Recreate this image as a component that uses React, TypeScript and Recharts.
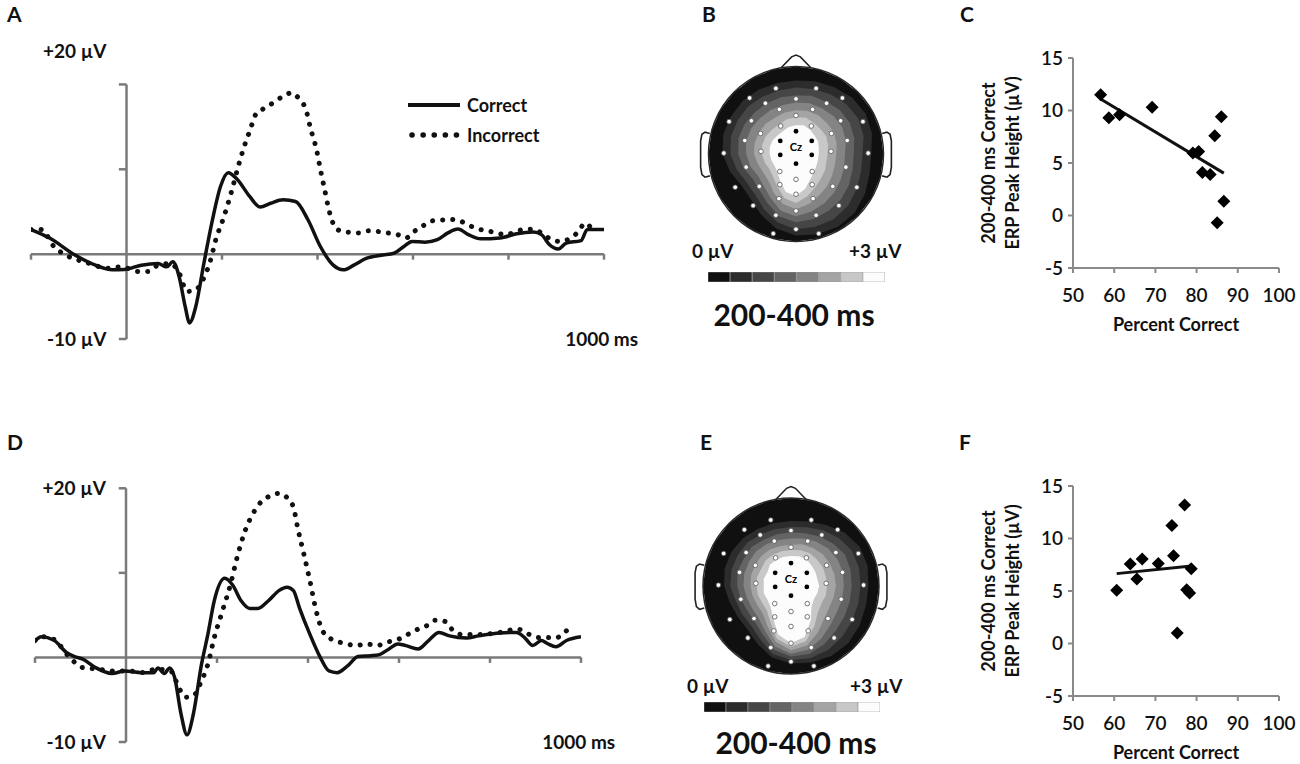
import React from 'react';
import {
  LineChart,
  Line,
  XAxis,
  YAxis,
  ReferenceLine,
  ReferenceDot,
  Legend,
  ScatterChart,
  Scatter,
  RadarChart,
  Radar,
  PolarAngleAxis,
  PolarRadiusAxis,
  BarChart,
  Bar,
  Cell,
} from 'recharts';

const FONT = 'Lato, "Open Sans", "DejaVu Sans", sans-serif';
const INK = '#111111';
const AXIS_GREY = '#7a7a7a';

// ---------- ERP waveforms (ms, µV) ----------
const timeTicks = [-200, 200, 400, 600, 800, 1000];
const voltTicks = [-10, 10, 20];
const seriesNames = ['Correct', 'Incorrect'];

const correctTimesA = [-200, -161, -108, -65, -30, -4, 31, 66, 84, 97, 110, 123, 132, 145, 162, 180, 197, 213, 232, 258, 280, 302, 328, 354, 380, 406, 433, 454, 476, 502, 537, 559, 581, 598, 625, 651, 673, 694, 716, 742, 782, 817, 852, 869, 886, 904, 921, 952, 965, 1000];
const correctValuesA = [2.9, 1.9, -0.1, -1.3, -1.85, -1.8, -1.3, -1.1, -1.5, -0.9, -2.6, -6.2, -8.1, -6.2, -1.1, 4.05, 8.0, 9.6, 8.8, 6.8, 5.55, 6.0, 6.4, 6.2, 4.05, 0.9, -1.3, -1.85, -1.3, -0.5, -0.1, 0.1, 0.9, 1.5, 1.4, 1.7, 2.5, 2.95, 2.3, 1.8, 1.9, 2.4, 2.6, 2.3, 1.1, 0.6, 1.3, 1.6, 2.9, 2.9];
const incorrectTimesA = [-200, -178, -152, -78, -39, -12, 27, 44, 66, 92, 110, 127, 145, 162, 175, 188, 201, 219, 236, 249, 258, 271, 289, 306, 328, 345, 363, 376, 385, 398, 406, 415, 424, 441, 463, 485, 507, 546, 568, 585, 603, 620, 638, 659, 677, 699, 721, 738, 760, 795, 817, 838, 856, 873, 891, 908, 930, 947, 960, 973];
const incorrectValuesA = [2.9, 2.9, 0.9, -1.1, -1.65, -1.5, -2.05, -2.05, -1.3, -1.1, -2.2, -4.4, -4.2, -2.8, -0.9, 1.9, 3.9, 7.2, 10.75, 13.1, 14.5, 16.5, 17.2, 17.8, 18.6, 19.0, 18.2, 17.0, 14.9, 12.3, 10.0, 7.6, 5.2, 2.9, 2.6, 2.5, 2.75, 2.5, 2.3, 1.9, 2.7, 3.3, 3.9, 4.0, 4.1, 3.9, 3.3, 2.95, 2.7, 2.3, 2.7, 2.95, 2.9, 2.3, 1.7, 1.5, 1.9, 2.7, 3.65, 3.1];

const correctTimesD = [-200, -186, -159, -131, -113, -95, -67, -31, -3, 34, 61, 70, 84, 96, 107, 121, 134, 148, 166, 180, 194, 217, 235, 253, 272, 290, 313, 336, 354, 368, 381, 404, 427, 446, 464, 487, 510, 537, 555, 578, 597, 615, 642, 665, 688, 711, 748, 775, 821, 858, 876, 894, 913, 926, 945, 968, 1000];
const correctValuesD = [1.97, 2.45, 2.05, 0.6, 0.1, -0.2, -1.2, -1.9, -1.6, -1.8, -1.8, -1.25, -1.9, -1.25, -2.4, -6.7, -9.15, -6.7, -0.8, 2.75, 6.7, 9.35, 8.5, 6.7, 5.8, 5.8, 6.7, 7.9, 8.3, 7.9, 5.9, 2.75, 0, -1.6, -1.8, -1.0, 0.1, 0.2, 0.3, 1.0, 1.6, 1.4, 1.0, 2.0, 2.95, 2.55, 2.3, 2.55, 2.9, 2.95, 2.35, 1.4, 2.0, 1.65, 1.25, 2.0, 2.45];
const incorrectTimesD = [-200, -186, -159, -127, -95, -58, -35, 6, 34, 66, 98, 116, 130, 148, 166, 180, 194, 212, 230, 244, 262, 281, 299, 317, 336, 354, 368, 377, 391, 404, 418, 432, 450, 482, 505, 528, 551, 574, 601, 624, 642, 661, 679, 702, 716, 739, 775, 821, 861, 885, 908, 926, 945, 963, 981];
const incorrectValuesD = [2.0, 2.45, 2.15, 0.2, -1.2, -1.4, -1.6, -1.6, -1.8, -1.4, -1.6, -3.55, -4.7, -4.55, -2.75, -0.8, 2.35, 5.5, 8.7, 11.8, 15.0, 17.2, 18.5, 19.1, 19.4, 18.9, 17.75, 15.4, 12.2, 9.1, 5.5, 3.15, 2.2, 1.65, 1.4, 1.6, 1.4, 1.8, 2.2, 2.85, 3.35, 3.75, 4.4, 4.25, 3.35, 2.7, 2.7, 2.95, 3.35, 2.75, 2.35, 2.35, 2.3, 2.95, 3.75];

// ---------- correlations ----------
const pctTicks = [50, 60, 70, 80, 90, 100];
const peakTicks = [-5, 0, 5, 10, 15];
const yTitleLines = ['200-400 ms Correct', 'ERP Peak Height (µV)'];

const pctCorrectC = [56.7, 58.7, 61.3, 69.2, 79.1, 80.5, 81.4, 83.3, 84.4, 86.0, 86.6, 85.0];
const peakHeightC = [11.5, 9.3, 9.6, 10.3, 5.95, 6.1, 4.1, 3.9, 7.6, 9.4, 1.35, -0.7];
const pctCorrectF = [60.6, 63.9, 65.5, 66.8, 70.7, 74.0, 74.4, 77.1, 78.7, 77.6, 78.3, 75.3];
const peakHeightF = [5.06, 7.56, 6.14, 8.04, 7.63, 11.23, 8.35, 13.2, 7.12, 5.13, 4.81, 1.01];

// ---------- scalp maps ----------
// 8 grey steps, 0 µV (black) to +3 µV (white)
const greyLevels = ['#101010', '#2c2c2c', '#464646', '#646464', '#848484', '#a4a4a4', '#c8c8c8', '#fcfcfc'];
const topoAngles = [0, 15, 30, 45, 60, 75, 90, 105, 120, 135, 150, 165, 180, 195, 210, 225, 240, 255, 270, 285, 300, 315, 330, 345];
const headRim = [1, 1, 1, 1, 1, 1, 1, 1, 1, 1, 1, 1, 1, 1, 1, 1, 1, 1, 1, 1, 1, 1, 1, 1];

// outer radius (head = 1) of each grey step, per angle clockwise from the nose
const mapB1 = [0.84, 0.86, 0.88, 0.91, 0.92, 0.90, 0.86, 0.87, 0.91, 0.95, 0.96, 0.95, 0.93, 0.88, 0.80, 0.73, 0.72, 0.78, 0.84, 0.86, 0.86, 0.86, 0.85, 0.84];
const mapB2 = [0.76, 0.77, 0.79, 0.81, 0.82, 0.80, 0.76, 0.77, 0.80, 0.84, 0.86, 0.86, 0.86, 0.81, 0.73, 0.66, 0.65, 0.70, 0.75, 0.77, 0.77, 0.77, 0.76, 0.75];
const mapB3 = [0.67, 0.69, 0.69, 0.71, 0.71, 0.69, 0.66, 0.67, 0.70, 0.73, 0.75, 0.77, 0.78, 0.74, 0.65, 0.59, 0.57, 0.62, 0.66, 0.68, 0.68, 0.67, 0.67, 0.67];
const mapB4 = [0.59, 0.60, 0.60, 0.61, 0.61, 0.59, 0.56, 0.57, 0.59, 0.62, 0.65, 0.68, 0.71, 0.67, 0.58, 0.52, 0.50, 0.54, 0.57, 0.59, 0.59, 0.58, 0.58, 0.58];
const mapB5 = [0.50, 0.51, 0.51, 0.50, 0.50, 0.48, 0.46, 0.46, 0.48, 0.51, 0.54, 0.59, 0.63, 0.59, 0.51, 0.44, 0.43, 0.45, 0.48, 0.49, 0.49, 0.49, 0.48, 0.49];
const mapB6 = [0.42, 0.43, 0.41, 0.40, 0.40, 0.38, 0.36, 0.36, 0.38, 0.40, 0.44, 0.50, 0.56, 0.52, 0.43, 0.37, 0.35, 0.37, 0.39, 0.40, 0.40, 0.39, 0.39, 0.41];
const mapB7 = [0.33, 0.34, 0.32, 0.30, 0.29, 0.27, 0.26, 0.26, 0.27, 0.29, 0.33, 0.41, 0.48, 0.45, 0.36, 0.30, 0.28, 0.29, 0.30, 0.31, 0.31, 0.30, 0.30, 0.32];

const mapE1 = [0.74, 0.76, 0.80, 0.86, 0.90, 0.90, 0.88, 0.88, 0.90, 0.92, 0.92, 0.90, 0.88, 0.84, 0.76, 0.70, 0.70, 0.72, 0.76, 0.78, 0.78, 0.77, 0.75, 0.74];
const mapE2 = [0.67, 0.69, 0.73, 0.77, 0.80, 0.80, 0.79, 0.79, 0.80, 0.82, 0.84, 0.85, 0.84, 0.80, 0.70, 0.64, 0.64, 0.65, 0.69, 0.70, 0.70, 0.70, 0.68, 0.67];
const mapE3 = [0.61, 0.62, 0.65, 0.68, 0.71, 0.70, 0.69, 0.69, 0.70, 0.72, 0.76, 0.80, 0.80, 0.75, 0.64, 0.58, 0.57, 0.59, 0.61, 0.63, 0.62, 0.63, 0.61, 0.61];
const mapE4 = [0.54, 0.56, 0.58, 0.60, 0.61, 0.61, 0.60, 0.60, 0.60, 0.63, 0.69, 0.75, 0.77, 0.71, 0.59, 0.52, 0.51, 0.52, 0.54, 0.55, 0.55, 0.56, 0.55, 0.54];
const mapE5 = [0.47, 0.49, 0.50, 0.51, 0.51, 0.51, 0.51, 0.50, 0.50, 0.53, 0.61, 0.70, 0.73, 0.66, 0.53, 0.45, 0.44, 0.45, 0.46, 0.47, 0.47, 0.48, 0.48, 0.47];
const mapE6 = [0.41, 0.42, 0.43, 0.42, 0.42, 0.41, 0.41, 0.41, 0.40, 0.43, 0.53, 0.65, 0.69, 0.62, 0.47, 0.39, 0.38, 0.39, 0.39, 0.40, 0.39, 0.41, 0.41, 0.41];
const mapE7 = [0.34, 0.35, 0.35, 0.33, 0.32, 0.31, 0.32, 0.31, 0.30, 0.33, 0.45, 0.60, 0.65, 0.57, 0.41, 0.33, 0.31, 0.32, 0.31, 0.32, 0.31, 0.34, 0.34, 0.34];

// electrode positions, head radius = 1, nose up
const electrodeU = [0, 0, 0, 0, 0, 0, -0.23, 0.23, -0.53, 0.53, -0.35, 0.35, -0.19, 0.19, -0.765, 0.765, -0.51, 0.51, -0.175, 0.175, -0.405, 0.405, -0.585, 0.585, -0.825, 0.825, -0.4, 0.4, -0.57, 0.57, -0.185, 0.185, -0.695, 0.695, -0.42, 0.42, -0.185, 0.185, -0.49, 0.49, -0.195, 0.195, -0.23, 0.23, -0.26, 0.26];
const electrodeV = [0.63, 0.44, -0.29, -0.46, -0.65, -0.86, 0.75, 0.75, 0.64, 0.64, 0.58, 0.58, 0.51, 0.51, 0.37, 0.37, 0.38, 0.38, 0.32, 0.32, 0.235, 0.235, 0.155, 0.155, 0.01, 0.01, 0.03, 0.03, -0.15, -0.15, -0.2, -0.2, -0.38, -0.38, -0.37, -0.37, -0.35, -0.35, -0.59, -0.59, -0.51, -0.51, -0.7, -0.7, -0.91, -0.91];
const activeU = [0, -0.18, 0.18, -0.18, 0.18, 0];
const activeV = [0.26, 0.15, 0.15, -0.01, -0.01, -0.11];
const noseU = [-0.17, -0.05, 0, 0.05, 0.17];
const noseV = [0.985, 1.11, 1.13, 1.11, 0.985];
const earLeftU = [-0.985, -1.04, -1.075, -1.09, -1.09, -1.075, -1.04, -0.985];
const earRightU = [0.985, 1.04, 1.075, 1.09, 1.09, 1.075, 1.04, 0.985];
const earV = [0.235, 0.25, 0.225, 0.15, -0.15, -0.235, -0.265, -0.25];

const toPoints = (times: number[], values: number[]) =>
  times.slice(0, Math.min(times.length, values.length)).map((t, i) => ({ t, v: values[i] }));
const toUV = (us: number[], vs: number[]) => us.map((u, i) => ({ u, v: vs[i] }));

const WaveLegend = () => (
  <div style={{ fontFamily: FONT, fontSize: 18, fontWeight: 700, color: INK }}>
    {seriesNames.map((name, i) => (
      <div key={name} style={{ display: 'flex', alignItems: 'center', height: 30 }}>
        <svg width={58} height={12}>
          {i === 0 ? (
            <line x1={3} y1={6} x2={55} y2={6} stroke={INK} strokeWidth={4} />
          ) : (
            <line x1={7} y1={6} x2={52} y2={6} stroke={INK} strokeWidth={5.5} strokeDasharray="0.1 11" strokeLinecap="round" />
          )}
        </svg>
        <span style={{ marginLeft: 4 }}>{name}</span>
      </div>
    ))}
  </div>
);

function Waveform({ correct, incorrect, width, height, margin, topLabelAt, showLegend }: any) {
  const labelStyle = { fontSize: 19, fontWeight: 700, fill: INK };
  return (
    <LineChart width={width} height={height} margin={margin}>
      <XAxis type="number" dataKey="t" domain={[-200, 1000]} hide allowDataOverflow />
      <YAxis type="number" domain={[-10, 25]} hide allowDataOverflow />
      <ReferenceLine y={0} stroke={AXIS_GREY} strokeWidth={2.5} />
      <ReferenceLine segment={[{ x: 0, y: -10 }, { x: 0, y: 20 }]} stroke={AXIS_GREY} strokeWidth={2.5} />
      {timeTicks.map((t) => (
        <ReferenceLine key={`t${t}`} segment={[{ x: t, y: 0 }, { x: t, y: -0.65 }]} stroke={AXIS_GREY} strokeWidth={2.5} ifOverflow="visible" />
      ))}
      {voltTicks.map((v) => (
        <ReferenceLine key={`v${v}`} segment={[{ x: -16, y: v }, { x: 0, y: v }]} stroke={AXIS_GREY} strokeWidth={2.5} />
      ))}
      <ReferenceDot x={0} y={topLabelAt} r={0} stroke="none" ifOverflow="visible" label={{ value: '+20 µV', position: 'left', offset: 20, ...labelStyle }} />
      <ReferenceDot x={0} y={-10} r={0} stroke="none" ifOverflow="visible" label={{ value: '-10 µV', position: 'left', offset: 20, ...labelStyle }} />
      <ReferenceDot x={995} y={-10} r={0} stroke="none" ifOverflow="visible" label={{ value: '1000 ms', position: 'center', ...labelStyle }} />
      <Line data={incorrect} dataKey="v" name="Incorrect" type="monotone" stroke={INK} strokeWidth={5} strokeDasharray="0.1 10" strokeLinecap="round" dot={false} isAnimationActive={false} />
      <Line data={correct} dataKey="v" name="Correct" type="monotone" stroke={INK} strokeWidth={3.5} dot={false} isAnimationActive={false} />
      {showLegend && (
        <Legend layout="vertical" align="center" verticalAlign="middle" content={WaveLegend} wrapperStyle={{ left: 405, top: 90, width: 170 }} />
      )}
    </LineChart>
  );
}

const linearFit = (xs: number[], ys: number[]) => {
  const n = xs.length;
  const mx = xs.reduce((a, b) => a + b, 0) / n;
  const my = ys.reduce((a, b) => a + b, 0) / n;
  let sxy = 0;
  let sxx = 0;
  xs.forEach((x, i) => {
    sxy += (x - mx) * (ys[i] - my);
    sxx += (x - mx) * (x - mx);
  });
  const slope = sxy / sxx;
  return (x: number) => my + slope * (x - mx);
};

const Diamond = (props: any) => {
  const { cx, cy } = props;
  const h = 6.5;
  return <polygon points={`${cx},${cy - h} ${cx + h},${cy} ${cx},${cy + h} ${cx - h},${cy}`} fill="#000" />;
};

const renderYTitle = (props: any) => {
  const vb = props && props.viewBox && props.viewBox.height ? props.viewBox : { x: 73, y: 58, width: 60, height: 210 };
  const cy = vb.y + vb.height / 2;
  return (
    <g>
      {yTitleLines.map((line, i) => {
        const x = vb.x - 25 + i * 24;
        return (
          <text key={line} x={x} y={cy} transform={`rotate(-90 ${x} ${cy})`} textAnchor="middle" dominantBaseline="central" fontSize={18} fontWeight={700} fill={INK}>
            {line}
          </text>
        );
      })}
    </g>
  );
};

function Correlation({ xs, ys }: any) {
  const points = xs.map((x: number, i: number) => ({ x, y: ys[i] }));
  const fit = linearFit(xs, ys);
  const xMin = Math.min(...xs);
  const xMax = Math.max(...xs);
  const axisLine = { stroke: '#8a8a8a', strokeWidth: 2 };
  return (
    <ScatterChart width={360} height={345} margin={{ top: 58, right: 21, bottom: 17, left: 73 }}>
      <XAxis
        type="number"
        dataKey="x"
        domain={[50, 100]}
        ticks={pctTicks}
        interval={0}
        height={60}
        tickSize={5}
        tickMargin={16}
        axisLine={axisLine}
        tickLine={axisLine}
        tick={{ fontSize: 19, fontWeight: 600, fill: INK }}
        label={{ value: 'Percent Correct', position: 'insideBottom', offset: -3, fontSize: 18, fontWeight: 700, fill: INK }}
      />
      <YAxis
        type="number"
        dataKey="y"
        domain={[-5, 15]}
        ticks={peakTicks}
        interval={0}
        width={60}
        tickSize={5}
        tickMargin={5}
        axisLine={axisLine}
        tickLine={axisLine}
        tick={{ fontSize: 19, fontWeight: 600, fill: INK }}
        label={{ content: renderYTitle }}
      />
      <ReferenceLine segment={[{ x: xMin, y: fit(xMin) }, { x: xMax, y: fit(xMax) }]} stroke={INK} strokeWidth={3} />
      <Scatter data={points} shape={Diamond} isAnimationActive={false} />
    </ScatterChart>
  );
}

const Electrode = (props: any) => <circle cx={props.cx} cy={props.cy} r={2.3} fill="#ffffff" stroke="#555" strokeWidth={0.8} />;
const ActiveElectrode = (props: any) => <circle cx={props.cx} cy={props.cy} r={2.4} fill="#000" />;
const CzLabel = (props: any) => (
  <text x={props.cx} y={props.cy} textAnchor="middle" dominantBaseline="central" fontSize={11} fontWeight={700} fill="#000">
    Cz
  </text>
);
const NoMark = () => <g />;

function Topomap({ levels, size, radius }: any) {
  const rows = topoAngles.map((angle, i) => {
    const row: any = { angle, r0: headRim[i] };
    levels.forEach((arr: number[], k: number) => {
      row[`r${k + 1}`] = arr[i];
    });
    return row;
  });
  const half = size / 2;
  const d = half / radius;
  const outline = { stroke: '#222', strokeWidth: 1.6 };
  return (
    <div style={{ position: 'relative', width: size, height: size }}>
      <div style={{ position: 'absolute', left: 0, top: 0 }}>
        <RadarChart width={size} height={size} cx={half} cy={half} outerRadius={radius} data={rows} margin={{ top: 0, right: 0, bottom: 0, left: 0 }}>
          <PolarAngleAxis dataKey="angle" tick={false} tickLine={false} axisLineType="circle" stroke="#2a2a2a" strokeWidth={1.5} />
          <PolarRadiusAxis type="number" domain={[0, 1]} tick={false} axisLine={false} />
          {greyLevels.map((color, k) => (
            <Radar key={color} dataKey={`r${k}`} fill={color} fillOpacity={1} stroke="none" dot={false} isAnimationActive={false} />
          ))}
        </RadarChart>
      </div>
      <div style={{ position: 'absolute', left: 0, top: 0 }}>
        <ScatterChart width={size} height={size} margin={{ top: 0, right: 0, bottom: 0, left: 0 }}>
          <XAxis type="number" dataKey="u" domain={[-d, d]} hide allowDataOverflow />
          <YAxis type="number" dataKey="v" domain={[-d, d]} hide allowDataOverflow />
          <Scatter data={toUV(noseU, noseV)} line={outline} shape={NoMark} isAnimationActive={false} />
          <Scatter data={toUV(earLeftU, earV)} line={outline} shape={NoMark} isAnimationActive={false} />
          <Scatter data={toUV(earRightU, earV)} line={outline} shape={NoMark} isAnimationActive={false} />
          <Scatter data={toUV(electrodeU, electrodeV)} shape={Electrode} isAnimationActive={false} />
          <Scatter data={toUV(activeU, activeV)} shape={ActiveElectrode} isAnimationActive={false} />
          <Scatter data={[{ u: 0, v: 0.085 }]} shape={CzLabel} isAnimationActive={false} />
        </ScatterChart>
      </div>
    </div>
  );
}

function ColorBar({ width }: any) {
  const data = greyLevels.map((color, i) => ({ level: i, value: 1 }));
  return (
    <BarChart width={width} height={10} data={data} margin={{ top: 0, right: 0, bottom: 0, left: 0 }} barCategoryGap={0} barGap={0}>
      <XAxis dataKey="level" hide />
      <YAxis domain={[0, 1]} hide />
      <Bar dataKey="value" isAnimationActive={false} stroke="#9a9a9a" strokeWidth={0.6}>
        {data.map((d, i) => (
          <Cell key={d.level} fill={greyLevels[i]} />
        ))}
      </Bar>
    </BarChart>
  );
}

const Txt = ({ left, top, size, weight, width, align, children }: any) => (
  <div
    style={{
      position: 'absolute',
      left,
      top,
      width,
      textAlign: align,
      fontSize: size,
      fontWeight: weight,
      lineHeight: `${size * 1.2}px`,
      whiteSpace: 'nowrap',
    }}
  >
    {children}
  </div>
);

const Place = ({ left, top, children }: any) => <div style={{ position: 'absolute', left, top }}>{children}</div>;

export default function App() {
  return (
    <div style={{ position: 'absolute', left: 0, top: 0, width: 1300, height: 764, background: '#fff', fontFamily: FONT, color: INK, overflow: 'hidden' }}>
      <Place left={0} top={0}>
        <Waveform
          correct={toPoints(correctTimesA, correctValuesA)}
          incorrect={toPoints(incorrectTimesA, incorrectValuesA)}
          width={650}
          height={370}
          margin={{ top: 42, right: 46, bottom: 31, left: 31 }}
          topLabelAt={23.9}
          showLegend
        />
      </Place>
      <Place left={0} top={400}>
        <Waveform
          correct={toPoints(correctTimesD, correctValuesD)}
          incorrect={toPoints(incorrectTimesD, incorrectValuesD)}
          width={650}
          height={370}
          margin={{ top: 46, right: 69, bottom: 28, left: 35 }}
          topLabelAt={20}
        />
      </Place>

      <Place left={676} top={34}>
        <Topomap levels={[mapB1, mapB2, mapB3, mapB4, mapB5, mapB6, mapB7]} size={240} radius={87.5} />
      </Place>
      <Place left={671} top={466}>
        <Topomap levels={[mapE1, mapE2, mapE3, mapE4, mapE5, mapE6, mapE7]} size={240} radius={88} />
      </Place>
      <Place left={708} top={272}>
        <ColorBar width={177} />
      </Place>
      <Place left={704} top={702}>
        <ColorBar width={176} />
      </Place>

      <Place left={940} top={0}>
        <Correlation xs={pctCorrectC} ys={peakHeightC} />
      </Place>
      <Place left={940} top={428}>
        <Correlation xs={pctCorrectF} ys={peakHeightF} />
      </Place>

      <Txt left={7} top={1} size={21} weight={700}>A</Txt>
      <Txt left={702} top={1} size={21} weight={700}>B</Txt>
      <Txt left={960} top={1} size={21} weight={700}>C</Txt>
      <Txt left={7} top={429} size={21} weight={700}>D</Txt>
      <Txt left={700} top={429} size={21} weight={700}>E</Txt>
      <Txt left={959} top={429} size={21} weight={700}>F</Txt>

      <Txt left={692} top={240} size={19} weight={700}>0 µV</Txt>
      <Txt left={849} top={240} size={19} weight={700}>+3 µV</Txt>
      <Txt left={694} top={296} size={30} weight={700} width={200} align="center">200-400 ms</Txt>
      <Txt left={687} top={675} size={19} weight={700}>0 µV</Txt>
      <Txt left={850} top={675} size={19} weight={700}>+3 µV</Txt>
      <Txt left={696} top={724} size={30} weight={700} width={200} align="center">200-400 ms</Txt>
    </div>
  );
}
